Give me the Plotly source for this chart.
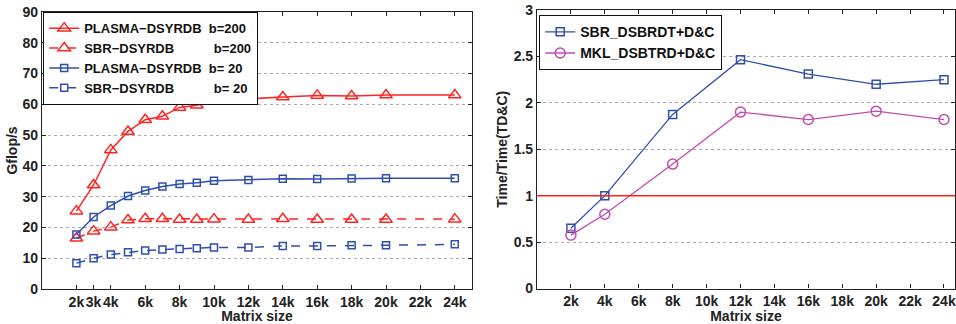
import plotly.graph_objects as go

# ---------------- data ----------------
sizes_left = [2, 3, 4, 5, 6, 7, 8, 9, 10, 12, 14, 16, 18, 20, 24]
plasma_b200 = [25.3, 33.8, 45.2, 51.2, 55.0, 56.1, 59.0, 59.7, 61.1, 61.8, 62.4, 62.9, 62.7, 63.0, 63.0]
sbr_b200 = [16.5, 18.8, 20.1, 22.4, 22.8, 22.8, 22.6, 22.6, 22.7, 22.6, 22.8, 22.6, 22.6, 22.6, 22.7]
plasma_b20 = [17.7, 23.4, 27.1, 30.2, 32.0, 33.3, 34.1, 34.5, 35.2, 35.4, 35.8, 35.7, 35.9, 36.0, 36.0]
sbr_b20 = [8.4, 10.0, 11.2, 11.9, 12.5, 12.8, 13.0, 13.2, 13.5, 13.5, 14.0, 14.0, 14.2, 14.2, 14.5]

left_tickvals = [2, 3, 4, 6, 8, 10, 12, 14, 16, 18, 20, 22, 24]
left_ticktext = ["2k", "3k", "4k", "6k", "8k", "10k", "12k", "14k", "16k", "18k", "20k", "22k", "24k"]
left_yticks = [0, 10, 20, 30, 40, 50, 60, 70, 80, 90]

sizes_right = [2, 4, 8, 12, 16, 20, 24]
sbr_dsbrdt = [0.65, 1.0, 1.875, 2.465, 2.31, 2.20, 2.25]
mkl_dsbtrd = [0.575, 0.80, 1.34, 1.90, 1.82, 1.91, 1.82]
reference_ratio = 1.0

right_tickvals = [2, 4, 6, 8, 10, 12, 14, 16, 18, 20, 22, 24]
right_ticktext = ["2k", "4k", "6k", "8k", "10k", "12k", "14k", "16k", "18k", "20k", "22k", "24k"]
right_yticks = [0, 0.5, 1, 1.5, 2, 2.5, 3]
right_yticktext = ["0", "0.5", "1", "1.5", "2", "2.5", "3"]

RED = "#ff2424"
BLUE = "#2f4fb0"
MAG = "#c24bb0"
NB = "\u00a0"
FAM = "Liberation Sans, Arial, sans-serif"

fig = go.Figure()

def tri(name, y, dash, legend):
    return go.Scatter(
        x=sizes_left, y=y, name=name, mode="lines+markers",
        line=dict(color=RED, width=1.5, dash=dash),
        marker=dict(symbol="triangle-up-open", size=11, color=RED, line=dict(width=1.5)),
        xaxis="x", yaxis="y", legend=legend)

def sq(name, y, dash, legend):
    return go.Scatter(
        x=sizes_left, y=y, name=name, mode="lines+markers",
        line=dict(color=BLUE, width=1.5, dash=dash),
        marker=dict(symbol="square-open", size=7, color=BLUE, line=dict(width=1.5)),
        xaxis="x", yaxis="y", legend=legend)

fig.add_trace(tri("PLASMA\u2212DSYRDB" + NB * 2 + "b=200", plasma_b200, "solid", "legend"))
fig.add_trace(tri("SBR\u2212DSYRDB" + NB * 11 + "b=200", sbr_b200, "dash", "legend"))
fig.add_trace(sq("PLASMA\u2212DSYRDB" + NB * 2 + "b=" + NB + "20", plasma_b20, "solid", "legend"))
fig.add_trace(sq("SBR\u2212DSYRDB" + NB * 11 + "b=" + NB + "20", sbr_b20, "dash", "legend"))

fig.add_trace(go.Scatter(
    x=sizes_right, y=sbr_dsbrdt, name="SBR_DSBRDT+D&C", mode="lines+markers",
    line=dict(color=BLUE, width=1.3),
    marker=dict(symbol="square-open", size=8, color=BLUE, line=dict(width=1.5)),
    xaxis="x2", yaxis="y2", legend="legend2"))
fig.add_trace(go.Scatter(
    x=sizes_right, y=mkl_dsbtrd, name="MKL_DSBTRD+D&C", mode="lines+markers",
    line=dict(color=MAG, width=1.3),
    marker=dict(symbol="circle-open", size=10, color=MAG, line=dict(width=1.5)),
    xaxis="x2", yaxis="y2", legend="legend2"))

fig.add_shape(type="line", xref="x2 domain", yref="y2", x0=0, x1=1,
              y0=reference_ratio, y1=reference_ratio,
              line=dict(color="#ff2020", width=1.5), layer="above")

axis_font = dict(family=FAM, size=14, color="#222", weight="bold")
common_x = dict(showline=True, linecolor="#222", linewidth=1.2, mirror="ticks",
                ticks="inside", ticklen=4, tickcolor="#222", showgrid=False,
                zeroline=False, tickfont=axis_font, automargin=False, tickangle=0)
common_y = dict(showline=True, linecolor="#222", linewidth=1.2, mirror="ticks",
                ticks="inside", ticklen=4, tickcolor="#222", showgrid=True,
                gridcolor="#aaaaaa", griddash="dot", gridwidth=1,
                zeroline=False, tickfont=axis_font, automargin=False, tickangle=0)
leg_font = dict(family=FAM, size=13, color="#111", weight="bold")

fig.update_layout(
    width=956, height=324,
    margin=dict(l=0, r=0, t=0, b=0),
    paper_bgcolor="white", plot_bgcolor="white",
    font=dict(family=FAM, color="#222", size=14, weight="bold"),
    xaxis=dict(common_x, domain=[42 / 956, 472 / 956], range=[0, 25],
               tickvals=left_tickvals, ticktext=left_ticktext,
               title=dict(text="Matrix size", font=axis_font, standoff=0), anchor="y"),
    yaxis=dict(common_y, domain=[1 - 289 / 324, 1 - 12 / 324], range=[0, 90],
               tickvals=left_yticks,
               title=dict(text="Gflop/s", font=axis_font, standoff=1), anchor="x"),
    xaxis2=dict(common_x, domain=[537 / 956, 955 / 956], range=[0, 24.65],
                tickvals=right_tickvals, ticktext=right_ticktext,
                title=dict(text="Matrix size", font=axis_font, standoff=0), anchor="y2"),
    yaxis2=dict(common_y, domain=[1 - 288.5 / 324, 1 - 10 / 324], range=[0, 3],
                tickvals=right_yticks, ticktext=right_yticktext,
                title=dict(text="Time/Time(TD&C)", font=axis_font, standoff=2), anchor="x2"),
    legend=dict(x=43 / 956, y=1 - 12 / 324, xanchor="left", yanchor="top",
                bgcolor="white", bordercolor="#111", borderwidth=1.2,
                font=leg_font, tracegroupgap=0, itemwidth=30),
    legend2=dict(x=539 / 956, y=1 - 15 / 324, xanchor="left", yanchor="top",
                 bgcolor="white", bordercolor="#111", borderwidth=1.2,
                 font=dict(leg_font, size=14), tracegroupgap=0, itemwidth=30),
    showlegend=True,
)

fig.write_html("out.html", config={"displayModeBar": False},
               post_script="document.body.style.margin='0';document.body.style.padding='0';document.body.style.overflow='hidden';")
